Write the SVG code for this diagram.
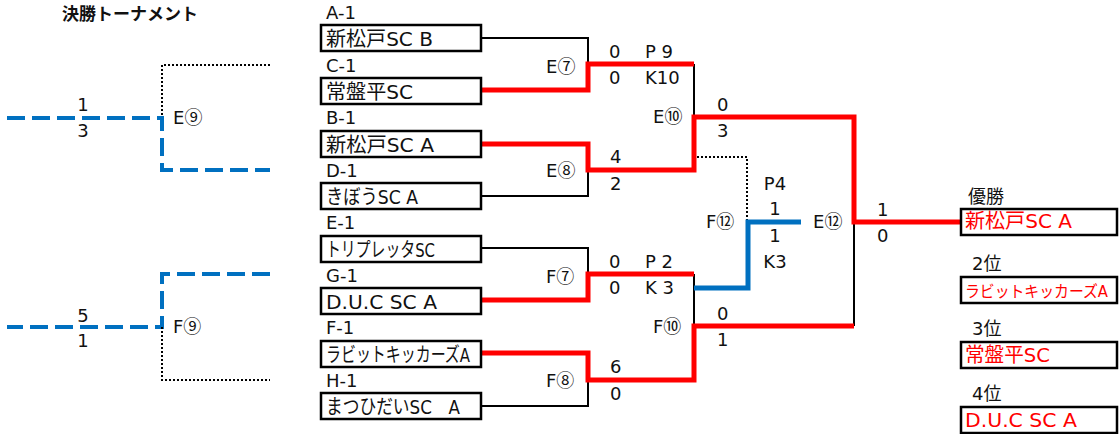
<svg xmlns="http://www.w3.org/2000/svg" width="1120" height="434" viewBox="0 0 1120 434">
<style>
text{font-family:"DejaVu Sans","Noto Sans CJK JP",sans-serif;fill:#111;font-size:18px}
.c{font-family:"Noto Sans CJK JP",sans-serif;font-size:18px}
.t{font-size:20px}
.s{font-size:16px}
.r{fill:#ff0000}
.title{font-family:"Noto Sans CJK JP",sans-serif;font-weight:bold;font-size:17px}
.box{fill:#fff;stroke:#000;stroke-width:2.5}
.blk{fill:none;stroke:#000;stroke-width:2}
.red{fill:none;stroke:#ff0000;stroke-width:5}
.blue{fill:none;stroke:#0070c0;stroke-width:5}
.bd{fill:none;stroke:#0070c0;stroke-width:4;stroke-dasharray:18 7}
.dot{fill:none;stroke:#000;stroke-width:2;stroke-dasharray:2 2}
.m{text-anchor:middle}
</style>
<rect width="1120" height="434" fill="#fff"/>
<text class="title" x="62" y="20">決勝トーナメント</text>

<g id="connectors">
  <path class="dot" d="M270,65 H162 V117"/>
  <path class="bd" d="M7,118 H162 V170 H270"/>
  <path class="bd" d="M270,274 H162 V327 H7"/>
  <path class="dot" d="M162,327 V380 H270"/>

  <path class="blk" d="M482,38 H588 V90 H482"/>
  <path class="blk" d="M482,144 H588 V196 H482"/>
  <path class="blk" d="M482,248 H588 V300 H482"/>
  <path class="blk" d="M482,353 H588 V406 H482"/>
  <path class="blk" d="M694,64 V170"/>
  <path class="blk" d="M694,274 V380"/>
  <path class="blk" d="M854,117 V326"/>
  <path class="dot" d="M697,157 H747 V222"/>

  <path class="red" d="M482,90 H588 V64 H694"/>
  <path class="red" d="M482,144 H588 V170 H694 V117 H854 V222 H961"/>
  <path class="red" d="M482,300 H588 V274 H694"/>
  <path class="red" d="M482,353 H588 V380 H694 V326 H854"/>
  <path class="blue" d="M694,288 H748 V222 H801"/>
</g>

<g id="left-E9">
  <text class="m" x="83" y="111">1</text>
  <text class="m" x="83" y="137">3</text>
  <text x="173" y="124">E<tspan class="c">⑨</tspan></text>
</g>
<g id="left-F9">
  <text class="m" x="83" y="322">5</text>
  <text class="m" x="83" y="347">1</text>
  <text x="173" y="333">F<tspan class="c">⑨</tspan></text>
</g>

<g id="team-A1">
  <text x="326" y="19">A-1</text>
  <rect class="box" x="321" y="25" width="160" height="26"/>
  <text class="t" x="326" y="46" textLength="107" lengthAdjust="spacingAndGlyphs">新松戸SC B</text>
</g>
<g id="team-C1">
  <text x="326" y="72">C-1</text>
  <rect class="box" x="321" y="78" width="160" height="26"/>
  <text class="t" x="326" y="99" textLength="87" lengthAdjust="spacingAndGlyphs">常盤平SC</text>
</g>
<g id="team-B1">
  <text x="326" y="124">B-1</text>
  <rect class="box" x="321" y="131" width="160" height="26"/>
  <text class="t" x="326" y="152" textLength="108" lengthAdjust="spacingAndGlyphs">新松戸SC A</text>
</g>
<g id="team-D1">
  <text x="326" y="177">D-1</text>
  <rect class="box" x="321" y="183" width="160" height="26"/>
  <text class="t" x="326" y="204" textLength="92" lengthAdjust="spacingAndGlyphs">きぼうSC A</text>
</g>
<g id="team-E1">
  <text x="326" y="229">E-1</text>
  <rect class="box" x="321" y="236" width="160" height="26"/>
  <text class="t" x="326" y="257" textLength="109" lengthAdjust="spacingAndGlyphs">トリプレッタSC</text>
</g>
<g id="team-G1">
  <text x="326" y="282">G-1</text>
  <rect class="box" x="321" y="288" width="160" height="26"/>
  <text class="t" x="326" y="309" textLength="111" lengthAdjust="spacingAndGlyphs">D.U.C SC A</text>
</g>
<g id="team-F1">
  <text x="326" y="334">F-1</text>
  <rect class="box" x="321" y="341" width="160" height="26"/>
  <text class="t" x="326" y="362" textLength="144" lengthAdjust="spacingAndGlyphs">ラビットキッカーズA</text>
</g>
<g id="team-H1">
  <text x="326" y="387">H-1</text>
  <rect class="box" x="321" y="393" width="160" height="26"/>
  <text class="t" x="326" y="414" textLength="134" lengthAdjust="spacingAndGlyphs">まつひだいSC　A</text>
</g>

<g id="match-E7">
  <text x="546" y="73">E<tspan class="c">⑦</tspan></text>
  <text x="609" y="58">0</text><text x="645" y="58">P 9</text>
  <text x="609" y="84">0</text><text x="645" y="84">K10</text>
</g>
<g id="match-E8">
  <text x="546" y="177">E<tspan class="c">⑧</tspan></text>
  <text x="610" y="163">4</text>
  <text x="610" y="190">2</text>
</g>
<g id="match-E10">
  <text x="653" y="123">E<tspan class="c">⑩</tspan></text>
  <text x="717" y="111">0</text>
  <text x="717" y="137">3</text>
</g>
<g id="match-F7">
  <text x="546" y="283">F<tspan class="c">⑦</tspan></text>
  <text x="609" y="268">0</text><text x="645" y="268">P 2</text>
  <text x="609" y="294">0</text><text x="645" y="294">K 3</text>
</g>
<g id="match-F8">
  <text x="546" y="387">F<tspan class="c">⑧</tspan></text>
  <text x="610" y="373">6</text>
  <text x="610" y="400">0</text>
</g>
<g id="match-F10">
  <text x="653" y="333">F<tspan class="c">⑩</tspan></text>
  <text x="717" y="320">0</text>
  <text x="717" y="346">1</text>
</g>
<g id="match-F12">
  <text x="706" y="228">F<tspan class="c">⑫</tspan></text>
  <text class="m" x="775" y="190">P4</text>
  <text class="m" x="775" y="215">1</text>
  <text class="m" x="775" y="242">1</text>
  <text class="m" x="775" y="268">K3</text>
</g>
<g id="match-E12">
  <text x="813" y="228">E<tspan class="c">⑫</tspan></text>
  <text x="877" y="216">1</text>
  <text x="877" y="242">0</text>
</g>

<g id="result-1">
  <text x="968" y="203">優勝</text>
  <rect class="box" x="961" y="209" width="156" height="26"/>
  <text class="t r" x="965" y="228" textLength="107" lengthAdjust="spacingAndGlyphs">新松戸SC A</text>
</g>
<g id="result-2">
  <text x="972" y="270">2位</text>
  <rect class="box" x="961" y="277" width="156" height="26"/>
  <text class="s r" x="965" y="297" textLength="143" lengthAdjust="spacingAndGlyphs">ラビットキッカーズA</text>
</g>
<g id="result-3">
  <text x="972" y="335">3位</text>
  <rect class="box" x="961" y="342" width="156" height="26"/>
  <text class="t r" x="965" y="362" textLength="85" lengthAdjust="spacingAndGlyphs">常盤平SC</text>
</g>
<g id="result-4">
  <text x="972" y="400">4位</text>
  <rect class="box" x="961" y="407" width="156" height="26"/>
  <text class="t r" x="965" y="427" textLength="112" lengthAdjust="spacingAndGlyphs">D.U.C SC A</text>
</g>
</svg>
